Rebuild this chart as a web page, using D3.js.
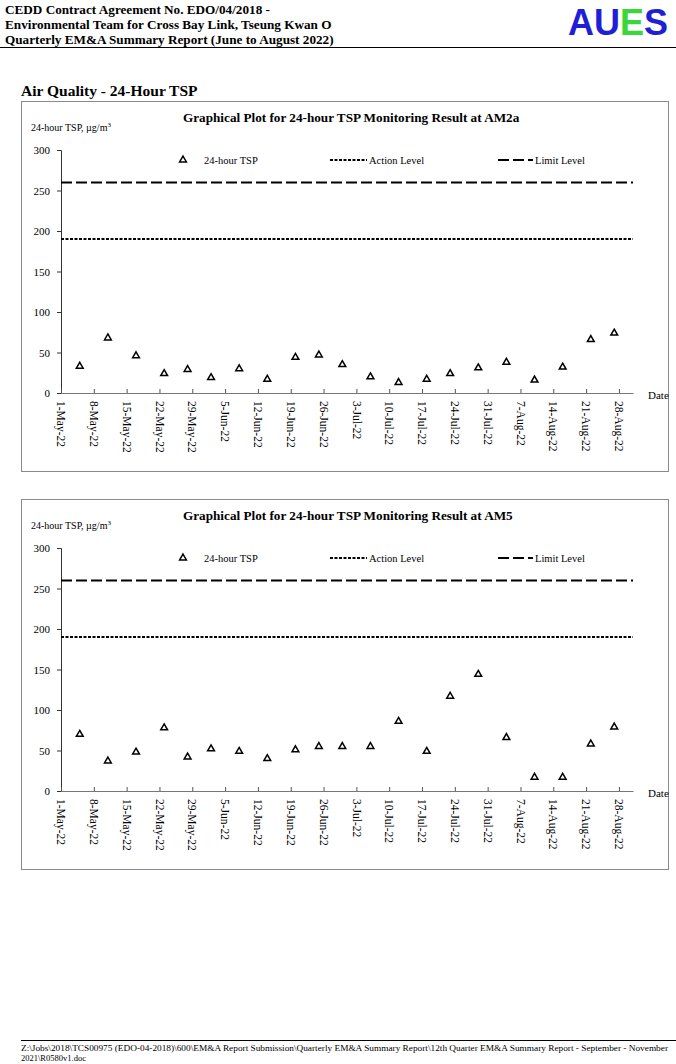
<!DOCTYPE html>
<html>
<head>
<meta charset="utf-8">
<script src="https://cdn.jsdelivr.net/npm/d3@7"></script>
<style>
  body { margin: 0; background: #fff; }
  svg { display: block; font-family: "Liberation Serif", "Times New Roman", serif; }
</style>
</head>
<body>
<div id="app"></div>
<script>
// sampling dates (shared by both stations)
const sampleDates = ["2022-05-05", "2022-05-11", "2022-05-17", "2022-05-23", "2022-05-28",
    "2022-06-02", "2022-06-08", "2022-06-14", "2022-06-20", "2022-06-25", "2022-06-30",
    "2022-07-06", "2022-07-12", "2022-07-18", "2022-07-23", "2022-07-29",
    "2022-08-04", "2022-08-10", "2022-08-16", "2022-08-22", "2022-08-27"];

const tspAM2a = [33, 68, 46, 24, 29, 19, 30, 17, 44, 47, 35, 20, 13, 17, 24, 31, 38, 16, 32, 66, 74];
const tspAM5 = [70, 37, 48, 78, 42, 52, 49, 40, 51, 55, 55, 55, 86, 49, 117, 144, 66, 17, 17, 58, 79];

const actionLevel = 190;
const limitLevel = 260;

const yTicks = [0, 50, 100, 150, 200, 250, 300];
const xTickLabels = ["1-May-22", "8-May-22", "15-May-22", "22-May-22", "29-May-22", "5-Jun-22",
    "12-Jun-22", "19-Jun-22", "26-Jun-22", "3-Jul-22", "10-Jul-22", "17-Jul-22", "24-Jul-22",
    "31-Jul-22", "7-Aug-22", "14-Aug-22", "21-Aug-22", "28-Aug-22"];

const charts = [
    { title: "Graphical Plot for 24-hour TSP Monitoring Result at AM2a", values: tspAM2a, top: 101 },
    { title: "Graphical Plot for 24-hour TSP Monitoring Result at AM5", values: tspAM5, top: 499 }
];

const width = 676, height = 1064;
const parseIso = d3.timeParse("%Y-%m-%d");
const parseTick = d3.timeParse("%d-%b-%y");

const svg = d3.select("#app").append("svg")
    .attr("width", width)
    .attr("height", height);

// --- page header ---
const header = svg.append("g").attr("font-weight", "bold").attr("font-size", 13.2);
["CEDD Contract Agreement No. EDO/04/2018 -",
 "Environmental Team for Cross Bay Link, Tseung Kwan O",
 "Quarterly EM&A Summary Report (June to August 2022)"].forEach((t, i) => {
    header.append("text").attr("x", 5).attr("y", 14 + i * 15).text(t);
});
svg.append("line").attr("x1", 0).attr("x2", width).attr("y1", 47.5).attr("y2", 47.5)
    .attr("stroke", "#000").attr("stroke-width", 1.2);

// logo, one letter at a time
const logo = svg.append("g")
    .attr("font-family", "Liberation Sans, Arial, sans-serif")
    .attr("font-weight", "bold")
    .attr("font-size", 36);
[["A", 0, "#1f1fd6"], ["U", 26, "#1f1fd6"], ["E", 52, "#3ad63a"], ["S", 76, "#1f1fd6"]]
    .forEach(([ch, dx, col]) => {
        logo.append("text").attr("x", 568 + dx).attr("y", 35).attr("fill", col).text(ch);
    });

svg.append("text").attr("x", 21).attr("y", 96)
    .attr("font-weight", "bold").attr("font-size", 15.5)
    .text("Air Quality - 24-Hour TSP");

// --- charts ---
const x = d3.scaleTime()
    .domain([parseIso("2022-05-01"), parseIso("2022-08-31")])
    .range([61, 633]);

charts.forEach(c => {
    const g = svg.append("g").attr("transform", `translate(0,${c.top})`);
    const y = d3.scaleLinear().domain([0, 300]).range([292, 49]);

    g.append("rect")
        .attr("x", 21.5).attr("y", 0.5)
        .attr("width", 647).attr("height", 370)
        .attr("fill", "none").attr("stroke", "#8a8a8a");

    g.append("text").attr("x", 183).attr("y", 21)
        .attr("font-weight", "bold").attr("font-size", 13.2)
        .text(c.title);

    const ylab = g.append("text").attr("x", 31).attr("y", 30).attr("font-size", 10);
    ylab.append("tspan").text("24-hour TSP, µg/m");
    ylab.append("tspan").attr("font-size", 7).attr("dy", -4).text("3");

    // y axis
    const yAxis = g.append("g").attr("transform", "translate(61,0)")
        .call(d3.axisLeft(y).tickValues(yTicks).tickSize(4).tickPadding(7));
    yAxis.select(".domain").attr("stroke", "#333");
    yAxis.selectAll(".tick line").attr("stroke", "#333");
    yAxis.selectAll("text").attr("font-family", "Liberation Serif").attr("font-size", 11);

    // x axis
    const xAxis = g.append("g").attr("transform", `translate(0,${y(0)})`)
        .call(d3.axisBottom(x).tickValues(xTickLabels.map(parseTick)).tickSize(-4)
            .tickSizeOuter(0).tickFormat(""));
    xAxis.select(".domain").attr("stroke", "#777");
    xAxis.selectAll(".tick line").attr("stroke", "#555");

    g.append("g").selectAll("text")
        .data(xTickLabels)
        .join("text")
        .attr("transform", d => `translate(${x(parseTick(d))},${y(0) + 8}) rotate(90)`)
        .attr("dy", "0.33em")
        .attr("font-size", 11.5)
        .text(d => d);

    g.append("text").attr("x", 648).attr("y", y(0) + 6).attr("font-size", 11).text("Date");

    // limit / action lines
    g.append("line")
        .attr("x1", x.range()[0]).attr("x2", x.range()[1])
        .attr("y1", y(limitLevel)).attr("y2", y(limitLevel))
        .attr("stroke", "#000").attr("stroke-width", 2).attr("stroke-dasharray", "11,4");
    g.append("line")
        .attr("x1", x.range()[0]).attr("x2", x.range()[1])
        .attr("y1", y(actionLevel)).attr("y2", y(actionLevel))
        .attr("stroke", "#000").attr("stroke-width", 2).attr("stroke-dasharray", "3,1.5");

    // legend
    const ly = 59;
    g.append("path")
        .attr("transform", `translate(183,${ly})`)
        .attr("d", d3.symbol(d3.symbolTriangle, 20)())
        .attr("fill", "#fff").attr("stroke", "#000").attr("stroke-width", 1.5);
    g.append("text").attr("x", 204).attr("y", ly + 4).attr("font-size", 10.5).text("24-hour TSP");
    g.append("line").attr("x1", 330).attr("x2", 367).attr("y1", ly).attr("y2", ly)
        .attr("stroke", "#000").attr("stroke-width", 2).attr("stroke-dasharray", "3,1.5");
    g.append("text").attr("x", 369).attr("y", ly + 4).attr("font-size", 10.5).text("Action Level");
    g.append("line").attr("x1", 498).attr("x2", 533).attr("y1", ly).attr("y2", ly)
        .attr("stroke", "#000").attr("stroke-width", 2).attr("stroke-dasharray", "11,4");
    g.append("text").attr("x", 535).attr("y", ly + 4).attr("font-size", 10.5).text("Limit Level");

    // points
    g.append("g").selectAll("path")
        .data(c.values.map((v, i) => ({ date: parseIso(sampleDates[i]), v })))
        .join("path")
        .attr("transform", d => `translate(${x(d.date)},${y(d.v)})`)
        .attr("d", d3.symbol(d3.symbolTriangle, 20)())
        .attr("fill", "#fff").attr("stroke", "#000").attr("stroke-width", 1.5);
});

// --- footer ---
svg.append("line").attr("x1", 21).attr("x2", width).attr("y1", 1040.5).attr("y2", 1040.5)
    .attr("stroke", "#000").attr("stroke-width", 1);
svg.append("text").attr("x", 21).attr("y", 1051).attr("font-size", 8.5)
    .attr("textLength", 647).attr("lengthAdjust", "spacingAndGlyphs")
    .text("Z:\\Jobs\\2018\\TCS00975 (EDO-04-2018)\\600\\EM&A Report Submission\\Quarterly EM&A Summary Report\\12th Quarter EM&A Summary Report - September - November");
svg.append("text").attr("x", 21).attr("y", 1061).attr("font-size", 8.5)
    .text("2021\\R0580v1.doc");
</script>
</body>
</html>
